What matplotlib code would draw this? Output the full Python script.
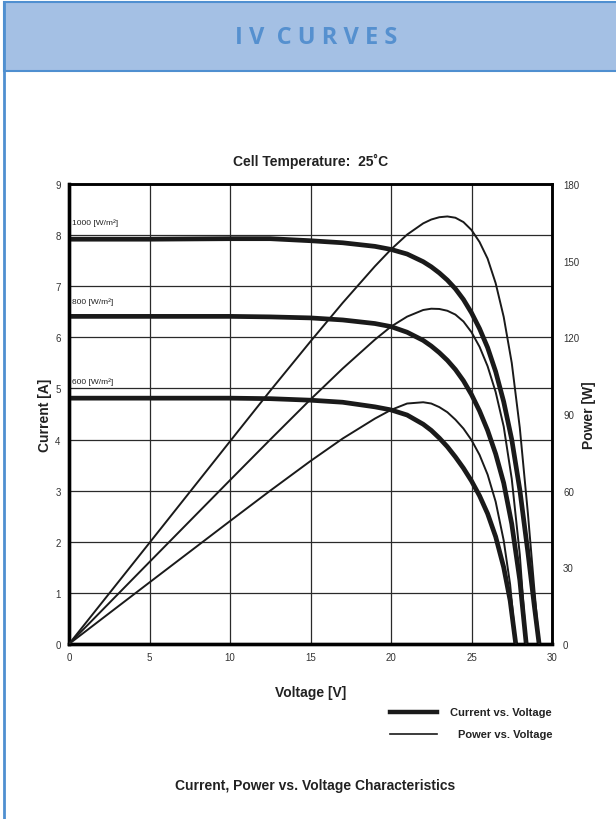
import matplotlib.pyplot as plt
from matplotlib.patches import Rectangle
from matplotlib.lines import Line2D

plt.rcParams['font.family'] = ['Liberation Sans', 'DejaVu Sans']

# -------------- DATA ---------------------------------------
# irradiance 1000 W/m2
v1000 = [0, 5, 10, 12.5, 15, 17, 19, 20, 21, 22, 22.5, 23, 23.5, 24, 24.5, 25, 25.5, 26, 26.5, 27, 27.5, 28, 28.5, 28.9, 29.2]
i1000 = [7.92, 7.92, 7.93, 7.93, 7.89, 7.85, 7.78, 7.72, 7.63, 7.48, 7.38, 7.26, 7.12, 6.95, 6.74, 6.48, 6.17, 5.80, 5.33, 4.74, 4.00, 3.02, 1.80, 0.75, 0]
p1000 = [0, 39.6, 79.3, 99.1, 118.4, 133.5, 147.8, 154.4, 160.2, 164.6, 166.1, 167.0, 167.3, 166.8, 165.1, 162.0, 157.3, 150.8, 141.2, 128.0, 110.0, 84.6, 51.3, 21.7, 0]

# irradiance 800 W/m2
v800 = [0, 5, 10, 12.5, 15, 17, 19, 20, 21, 22, 22.5, 23, 23.5, 24, 24.5, 25, 25.5, 26, 26.5, 27, 27.5, 28, 28.4]
i800 = [6.41, 6.41, 6.41, 6.40, 6.38, 6.34, 6.27, 6.21, 6.10, 5.94, 5.83, 5.70, 5.55, 5.37, 5.15, 4.88, 4.56, 4.18, 3.72, 3.15, 2.35, 1.25, 0]
p800 = [0, 32.1, 64.1, 80.0, 95.7, 107.8, 119.1, 124.2, 128.1, 130.7, 131.2, 131.1, 130.4, 128.9, 126.2, 122.0, 116.3, 108.7, 98.6, 85.1, 64.6, 35.0, 0]

# irradiance 600 W/m2
v600 = [0, 5, 10, 12.5, 15, 17, 19, 20, 21, 22, 22.5, 23, 23.5, 24, 24.5, 25, 25.5, 26, 26.5, 27, 27.4, 27.75]
i600 = [4.81, 4.81, 4.81, 4.80, 4.77, 4.73, 4.64, 4.58, 4.48, 4.30, 4.18, 4.03, 3.86, 3.66, 3.44, 3.19, 2.90, 2.55, 2.10, 1.50, 0.85, 0]
p600 = [0, 24.1, 48.1, 60.0, 71.6, 80.4, 88.2, 91.6, 94.1, 94.6, 94.1, 92.7, 90.7, 87.8, 84.3, 79.8, 74.0, 66.3, 55.7, 40.5, 23.3, 0]

labels = ["1000 [W/m²]", "800 [W/m²]", "600 [W/m²]"]
label_y = [8.25, 6.7, 5.15]

xticks = [0, 5, 10, 15, 20, 25, 30]
yticks = list(range(0, 10))
pticks = [0, 30, 60, 90, 120, 150, 180]
# -------------- END DATA -----------------------

fig = plt.figure(figsize=(6.16, 8.2), dpi=100)

# header band + left page border
fig.patches.append(Rectangle((4 / 616, 1 - 72 / 820), 1, 69 / 820, transform=fig.transFigure,
                             facecolor='#a4c0e4', edgecolor='#4f8fd0', lw=1.5))
fig.lines.append(Line2D([4 / 616, 4 / 616], [0, 1 - 3 / 820], transform=fig.transFigure,
                        color='#4f8fd0', lw=2))
fig.text(0.513, 1 - 38 / 820, "I V  C U R V E S", ha='center', va='center', fontsize=17,
         fontweight='bold', color='#5590cf', family=['Open Sans', 'DejaVu Sans'])

ax = fig.add_axes([69 / 616, 1 - 645 / 820, 483 / 616, 460 / 820])
ax2 = ax.twinx()

for v, i in [(v1000, i1000), (v800, i800), (v600, i600)]:
    ax.plot(v, i, color='#1a1a1a', lw=3.4, solid_capstyle='butt', solid_joinstyle='round', zorder=3)
for v, p in [(v1000, p1000), (v800, p800), (v600, p600)]:
    ax2.plot(v, p, color='#1a1a1a', lw=1.4, solid_joinstyle='round', zorder=3)

for lab, y in zip(labels, label_y):
    ax.text(0.2, y, lab, fontsize=6, color='#222222', va='center', ha='left')

ax.set_xlim(0, 30)
ax.set_ylim(0, 9)
ax2.set_ylim(0, 180)
ax.set_xticks(xticks)
ax.set_yticks(yticks)
ax2.set_yticks(pticks)
ax.grid(True, color='#2a2a2a', lw=0.9)
ax.set_axisbelow(True)
ax.tick_params(length=0, labelsize=7, colors='#333333', pad=6)
ax2.tick_params(length=0, labelsize=7, colors='#333333', pad=8)

for a in (ax, ax2):
    for s in ['left', 'bottom']:
        a.spines[s].set_linewidth(2.4)
    for s in ['top', 'right']:
        a.spines[s].set_linewidth(1.8)

ax.set_ylabel("Current [A]", fontsize=10, fontweight='bold', color='#222222', labelpad=2)
ax2.set_ylabel("Power [W]", fontsize=10, fontweight='bold', color='#222222', labelpad=2)
ax.set_xlabel("Voltage [V]", fontsize=10, fontweight='bold', color='#222222', labelpad=16)
ax.set_title("Cell Temperature:  25˚C", fontsize=10, fontweight='bold', color='#222222', pad=14)

# legend drawn by hand, text right aligned like the original
fig.lines.append(Line2D([390 / 616, 437 / 616], [1 - 713 / 820] * 2, transform=fig.transFigure,
                        color='#1a1a1a', lw=3.2))
fig.lines.append(Line2D([390 / 616, 437 / 616], [1 - 735 / 820] * 2, transform=fig.transFigure,
                        color='#1a1a1a', lw=1.2))
fig.text(552 / 616, 1 - 713 / 820, "Current vs. Voltage", ha='right', va='center',
         fontsize=8, fontweight='bold', color='#222222')
fig.text(552 / 616, 1 - 735 / 820, "Power vs. Voltage", ha='right', va='center',
         fontsize=8, fontweight='bold', color='#222222')

fig.text(315 / 616, 1 - 786 / 820, "Current, Power vs. Voltage Characteristics", ha='center',
         va='center', fontsize=10, fontweight='bold', color='#222222')

fig.savefig("out.png", dpi=100)
